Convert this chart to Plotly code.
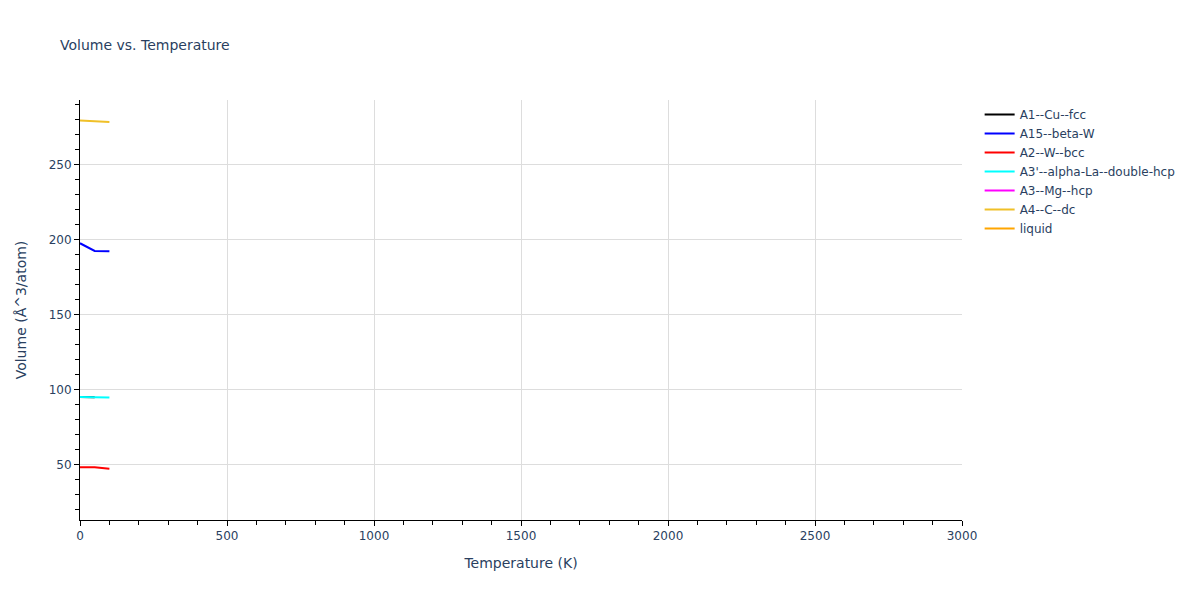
import plotly.graph_objects as go

temps_a1 = [0, 50]
vol_a1 = [95.3, 95.2]
temps_a15 = [0, 50, 100]
vol_a15 = [197.8, 192.7, 192.4]
temps_a2 = [0, 50, 100]
vol_a2 = [48.5, 48.4, 47.4]
temps_a3p = [0, 50, 100]
vol_a3p = [95.3, 95.2, 94.9]
temps_a3 = [None]
vol_a3 = [None]
temps_a4 = [0, 50, 100]
vol_a4 = [279.6, 279.2, 278.7]
temps_liq = [None]
vol_liq = [None]

series = [
    ("A1--Cu--fcc", temps_a1, vol_a1, "black"),
    ("A15--beta-W", temps_a15, vol_a15, "blue"),
    ("A2--W--bcc", temps_a2, vol_a2, "red"),
    ("A3'--alpha-La--double-hcp", temps_a3p, vol_a3p, "cyan"),
    ("A3--Mg--hcp", temps_a3, vol_a3, "magenta"),
    ("A4--C--dc", temps_a4, vol_a4, "#f0c028"),
    ("liquid", temps_liq, vol_liq, "orange"),
]

fig = go.Figure()
for name, x, y, c in series:
    fig.add_trace(go.Scatter(x=x, y=y, mode="lines", name=name, line=dict(color=c, width=2)))

axis_common = dict(
    showline=True, linecolor="black", linewidth=1,
    ticks="outside", tickcolor="black", ticklen=5,
    showgrid=True, gridcolor="#dddddd", zeroline=False,
    minor=dict(ticks="outside", ticklen=4, tickcolor="black", showgrid=False),
)

fig.update_layout(
    width=1192, height=592,
    margin=dict(l=72, r=238, t=92, b=80),
    title=dict(text="Volume vs. Temperature", font=dict(size=14),
               x=52 / 1192, xanchor="left", xref="container",
               y=1 - 37 / 592, yanchor="middle", yref="container"),
    template="plotly_white",
    font=dict(family="DejaVu Sans, Verdana, sans-serif", size=12),
    xaxis=dict(title=dict(text="Temperature (K)", font=dict(size=14)), range=[0, 3000], dtick=500,
               **axis_common),
    yaxis=dict(title=dict(text="Volume (Å^3/atom)", font=dict(size=14), standoff=18),
               range=[13.3, 293.3], dtick=50, **axis_common),
)
fig.update_xaxes(minor=dict(dtick=100))
fig.update_yaxes(minor=dict(dtick=10))

fig.write_html("out.html")
